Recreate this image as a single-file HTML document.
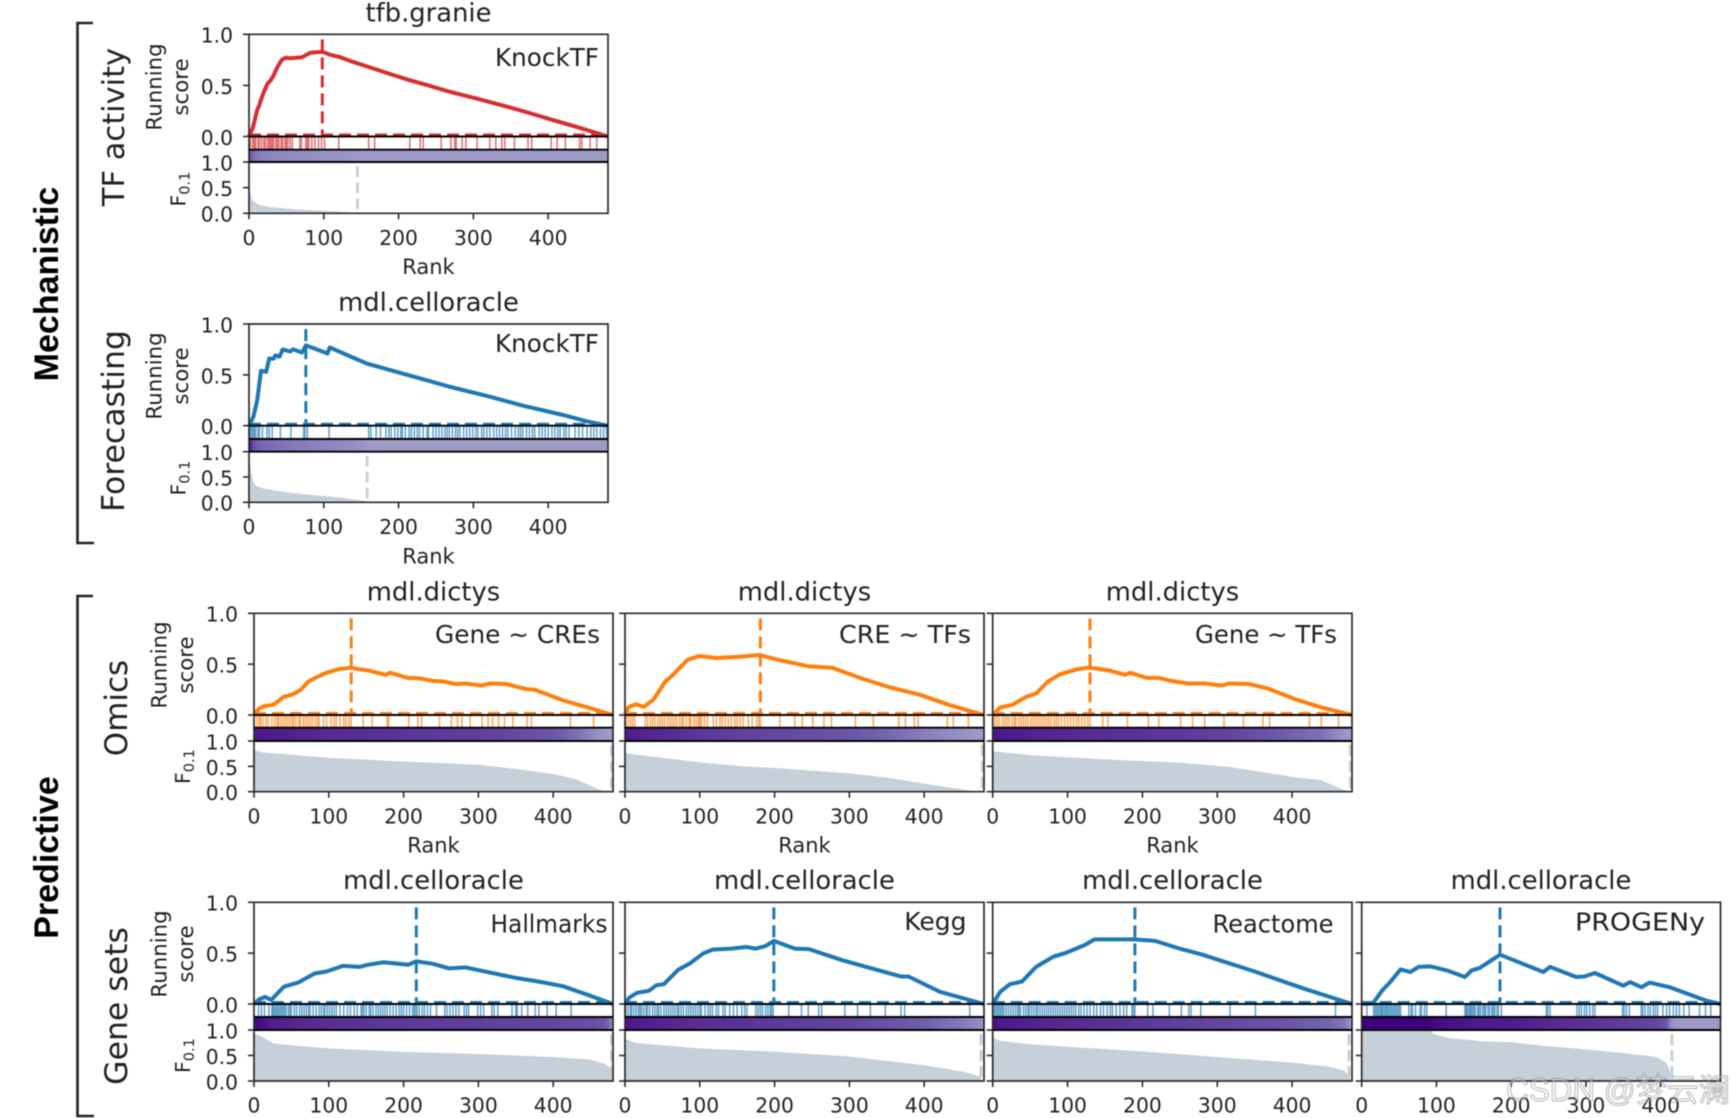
<!DOCTYPE html>
<html lang="en">
<head>
<meta charset="utf-8">
<title>Running score panels</title>
<style>
  html,body{margin:0;padding:0;background:#fff;width:1732px;height:1118px;overflow:hidden}
  svg{display:block;filter:blur(.6px)}
  text{font-family:"DejaVu Sans","Noto Sans CJK SC",sans-serif;fill:#222}
  .ttl{font-size:25.8px;text-anchor:middle}
  .ann{font-size:25px;text-anchor:end}
  .rk{font-size:21px;text-anchor:middle}
  .yl{font-size:21.3px;text-anchor:middle}
  .fl{font-size:20.4px}
  .grp{text-anchor:middle}
  .big{font-family:"Liberation Sans",sans-serif;font-weight:700;font-size:34px;text-anchor:middle;fill:#000}
  .tk{font-size:20.3px}
</style>
</head>
<body>
<svg id="fig" xmlns="http://www.w3.org/2000/svg" width="1732" height="1118" viewBox="0 0 1732 1118">
  <rect width="1732" height="1118" fill="#fff"/>
  <g id="panels"></g>

  <path d="M93 23 H77.5 V543 H94" fill="none" stroke="#222" stroke-width="2.6"/>
  <path d="M93 596 H77.5 V1116 H94" fill="none" stroke="#222" stroke-width="2.6"/>
  <text class="big" transform="translate(58,284) rotate(-90)">Mechanistic</text>
  <text class="big" transform="translate(58,857.5) rotate(-90)">Predictive</text>
  <text class="grp" font-size="30.5" transform="translate(124,127) rotate(-90)">TF activity</text>
  <text class="grp" font-size="31.5" transform="translate(124,421) rotate(-90)">Forecasting</text>
  <text class="grp" font-size="31" transform="translate(127,708) rotate(-90)">Omics</text>
  <text class="grp" font-size="31.5" transform="translate(127,1006) rotate(-90)">Gene sets</text>

  <text class="ttl" x="428.5" y="21.5">tfb.granie</text>
  <text class="ttl" x="428.5" y="311">mdl.celloracle</text>
  <text class="ttl" x="433.5" y="600.5">mdl.dictys</text>
  <text class="ttl" x="804.5" y="600.5">mdl.dictys</text>
  <text class="ttl" x="1172.5" y="600.5">mdl.dictys</text>
  <text class="ttl" x="433.5" y="889">mdl.celloracle</text>
  <text class="ttl" x="804.5" y="889">mdl.celloracle</text>
  <text class="ttl" x="1172.5" y="889">mdl.celloracle</text>
  <text class="ttl" x="1541" y="889">mdl.celloracle</text>

  <text class="ann" x="599" y="66" textLength="104" lengthAdjust="spacingAndGlyphs">KnockTF</text>
  <text class="ann" x="599" y="352" textLength="104" lengthAdjust="spacingAndGlyphs">KnockTF</text>
  <text class="ann" x="600" y="643" textLength="165" lengthAdjust="spacingAndGlyphs">Gene ~ CREs</text>
  <text class="ann" x="971" y="643" textLength="132" lengthAdjust="spacingAndGlyphs">CRE ~ TFs</text>
  <text class="ann" x="1337" y="643" textLength="142" lengthAdjust="spacingAndGlyphs">Gene ~ TFs</text>
  <text class="ann" x="607.5" y="932.5" textLength="117" lengthAdjust="spacingAndGlyphs">Hallmarks</text>
  <text class="ann" x="966.5" y="930">Kegg</text>
  <text class="ann" x="1333.5" y="932.5" textLength="121" lengthAdjust="spacingAndGlyphs">Reactome</text>
  <text class="ann" x="1705" y="930.5" textLength="130" lengthAdjust="spacingAndGlyphs">PROGENy</text>

  <text class="rk" x="428.5" y="274">Rank</text>
  <text class="rk" x="428.5" y="563.5">Rank</text>
  <text class="rk" x="433.5" y="852.5">Rank</text>
  <text class="rk" x="804.5" y="852.5">Rank</text>
  <text class="rk" x="1172.5" y="852.5">Rank</text>

  <g>
    <text class="yl" transform="translate(161.5,87) rotate(-90)">Running</text>
    <text class="yl" transform="translate(188,87) rotate(-90)">score</text>
    <text class="yl" transform="translate(161.5,376) rotate(-90)">Running</text>
    <text class="yl" transform="translate(188,376) rotate(-90)">score</text>
    <text class="yl" transform="translate(166.5,665) rotate(-90)">Running</text>
    <text class="yl" transform="translate(193,665) rotate(-90)">score</text>
    <text class="yl" transform="translate(166.5,954) rotate(-90)">Running</text>
    <text class="yl" transform="translate(193,954) rotate(-90)">score</text>
    <text class="fl" transform="translate(185.5,206.5) rotate(-90)">F<tspan font-size="14.5" dy="4">0.1</tspan></text>
    <text class="fl" transform="translate(185.5,495.5) rotate(-90)">F<tspan font-size="14.5" dy="4">0.1</tspan></text>
    <text class="fl" transform="translate(190,784) rotate(-90)">F<tspan font-size="14.5" dy="4">0.1</tspan></text>
    <text class="fl" transform="translate(190,1073) rotate(-90)">F<tspan font-size="14.5" dy="4">0.1</tspan></text>
  </g>

  <text x="1506" y="1101" font-size="32" textLength="224" lengthAdjust="spacingAndGlyphs" style="font-family:'Liberation Sans','Noto Sans CJK SC',sans-serif;fill:rgba(255,255,255,.35);stroke:rgba(110,110,110,.5);stroke-width:1">CSDN @梦云澜</text>
</svg>

<script>
// ---------- Axis tick labels ----------
const rankTicks = [0, 100, 200, 300, 400];
const scoreTicks = [0, 0.5, 1];
const fTicks = [0, 0.5, 1];
const tickText = ['0.0', '0.5', '1.0'];
const maxRank = 480;

// ---------- tfb.granie / KnockTF ----------
const granieRanks = [0,3,5,8,11,14,16,20,25,29,33,38,44,49,55,63,71,77,82,90,98,108,120,135,158,185,213,240,267,305,344,375,404,440,480];
const granieScores = [0,.05,.08,.17,.26,.31,.36,.44,.52,.55,.60,.68,.75,.77,.765,.77,.775,.80,.82,.825,.83,.80,.78,.74,.685,.62,.555,.50,.44,.37,.295,.23,.165,.09,0];
const granieHits = [2,5,7,9,12,14,17,20,22,25,27,29,31,33,36,38,40,43,45,48,50,52,55,58,68,70,76,78,80,84,88,93,97,101,120,160,168,215,229,233,257,270,275,277,285,290,305,322,330,338,342,355,373,378,404,412,423,442,445,456,465];
const granieFRanks = [0,2,5,10,15,30,60,100,145];
const granieFValues = [.5,.36,.25,.19,.16,.12,.08,.05,.01];
const granieFCut = 145;
const granieBest = 98;

// ---------- mdl.celloracle / KnockTF ----------
const forecastRanks = [0,6,11,16,23,27,33,35,41,45,55,59,71,76,87,105,108,131,158,185,229,267,322,365,420,453,480];
const forecastScores = [0,.09,.25,.54,.53,.66,.66,.69,.68,.75,.73,.75,.72,.79,.76,.71,.77,.695,.61,.555,.465,.385,.285,.2,.105,.04,0];
const forecastHits = [1,3,5,7,9,12,14,18,24,27,31,42,56,73,75,78,107,160,163,170,176,183,187,190,195,199,203,205,209,214,217,221,225,228,233,238,240,246,250,254,258,262,265,268,272,276,279,282,287,291,295,299,303,306,311,314,318,322,327,331,335,339,343,346,351,356,360,363,366,371,375,379,382,388,392,396,400,405,409,413,416,421,424,428,436,441,446,452,457,461,465,470,474,478];
const forecastFRanks = [0,3,6,10,20,50,80,120,158];
const forecastFValues = [.9,.6,.4,.32,.27,.2,.15,.1,.02];
const forecastFCut = 158;
const forecastBest = 76;

// ---------- mdl.dictys / Gene ~ CREs ----------
const creRanks = [0,7,15,26,33,40,51,62,73,83,97,113,129,140,152,176,182,206,223,239,253,269,283,304,315,337,364,375,413,446,480];
const creScores = [0,.065,.09,.1,.14,.18,.2,.245,.33,.37,.415,.45,.465,.45,.44,.395,.415,.365,.36,.335,.33,.305,.31,.29,.31,.305,.255,.25,.145,.075,0];
const creHits = [4,7,9,12,16,19,24,28,31,33,36,39,42,45,48,51,53,56,60,62,66,69,72,75,78,82,85,87,93,97,103,107,110,115,120,123,127,130,146,158,178,180,207,219,224,248,264,272,278,289,305,313,319,327,335,346,365,371,423,454];
const creFRanks = [0,10,50,100,200,270,300,350,400,430,445,460,473];
const creFValues = [.82,.78,.73,.667,.595,.55,.53,.45,.35,.25,.15,.05,0];
const creFCut = 478;
const creBest = 130;

// ---------- mdl.dictys / CRE ~ TFs ----------
const tfRanks = [0,5,15,25,38,46,54,62,70,83,99,122,148,165,180,206,245,277,316,355,394,433,480];
const tfScores = [0,.08,.105,.08,.15,.24,.33,.38,.44,.54,.58,.56,.57,.58,.59,.54,.48,.465,.36,.27,.2,.1,0];
const tfHits = [1,4,7,10,13,27,30,34,37,40,44,47,50,53,57,60,63,66,69,73,76,78,82,86,88,92,95,98,100,102,106,110,118,122,127,130,134,138,142,147,150,154,158,165,170,176,179,181,207,227,237,251,266,276,308,332,366,375,387,392,431,439,459];
const tfFRanks = [0,10,50,100,160,200,300,350,400,450,470];
const tfFValues = [.77,.74,.67,.58,.5,.47,.36,.28,.16,.05,0];
const tfFCut = 478;
const tfBest = 181;

// ---------- mdl.dictys / Gene ~ TFs ----------
const geneRanks = [0,10,26,45,58,74,90,113,130,155,177,184,206,222,239,261,284,306,316,342,368,406,439,480];
const geneScores = [0,.075,.1,.18,.21,.33,.40,.45,.465,.44,.395,.415,.365,.365,.335,.31,.31,.29,.31,.305,.26,.15,.075,0];
const geneHits = [3,6,9,13,16,19,22,26,29,31,35,38,41,44,47,51,54,57,60,63,66,69,72,75,78,82,85,88,92,96,100,104,108,112,115,119,123,127,130,147,154,180,208,222,251,267,283,309,335,361,370,423,439,462];
const geneFRanks = [0,52,155,252,316,406,439,458,474];
const geneFValues = [.8,.72,.635,.57,.49,.28,.23,.1,.01];
const geneFCut = 478;
const geneBest = 130;

// ---------- mdl.celloracle / Hallmarks ----------
const hallRanks = [0,7,15,23,40,59,81,97,119,141,152,173,206,217,239,261,283,315,348,381,413,446,480];
const hallScores = [0,.045,.07,.04,.17,.21,.30,.32,.375,.365,.385,.41,.385,.42,.395,.35,.36,.31,.26,.22,.175,.09,0];
const hallHits = [6,10,14,20,24,25,27,29,31,33,35,37,39,41,43,46,48,50,54,57,61,64,67,70,73,75,79,83,87,90,93,95,98,101,104,107,110,115,120,125,129,134,138,143,145,147,150,154,156,159,163,166,169,172,175,178,182,186,190,194,197,200,204,208,212,214,216,218,221,225,228,232,236,244,255,258,262,266,270,274,281,284,287,299,303,307,318,321,326,345,350,352,358,366,376,381,392,404,424];
const hallFRanks = [0,10,25,50,100,200,300,400,450,470,480];
const hallFValues = [.93,.88,.74,.7,.64,.57,.53,.47,.42,.33,.2];
const hallFCut = 478;
const hallBest = 217;

// ---------- mdl.celloracle / Kegg ----------
const keggRanks = [0,6,16,32,42,52,71,87,104,117,142,162,175,188,199,227,246,291,330,369,379,421,480];
const keggScores = [0,.065,.11,.13,.185,.195,.335,.40,.495,.535,.545,.56,.545,.57,.62,.545,.54,.43,.35,.27,.27,.12,0];
const keggHits = [1,4,7,9,12,15,18,20,22,25,28,30,33,37,40,43,45,48,52,55,58,61,64,67,70,72,75,78,82,85,88,91,94,97,100,102,107,111,114,117,122,125,131,134,140,145,150,156,160,163,175,178,181,184,188,191,194,196,198,219,236,245,259,263,294,311,328,348,369,374,461];
const keggFRanks = [0,13,50,100,200,300,400,453,476];
const keggFValues = [.83,.75,.7,.64,.575,.48,.31,.18,.08];
const keggFCut = 476;
const keggBest = 199;

// ---------- mdl.celloracle / Reactome ----------
const reacRanks = [0,10,23,39,58,81,97,123,136,155,175,189,217,252,278,350,414,480];
const reacScores = [0,.12,.195,.22,.365,.465,.50,.58,.635,.635,.635,.635,.62,.54,.49,.32,.155,0];
const reacHits = [1,3,5,7,9,11,13,15,18,21,24,27,30,33,35,37,41,44,47,49,52,55,58,60,63,66,69,72,75,78,81,84,87,90,93,96,99,102,105,108,111,115,118,122,126,130,135,139,144,148,153,157,160,165,170,175,179,186,188,190,207,214,236,252,262,265,278,317,351,458];
const reacFRanks = [0,10,50,100,200,300,400,450,470,478];
const reacFValues = [.85,.79,.72,.67,.58,.47,.36,.28,.2,.04];
const reacFCut = 476;
const reacBest = 190;

// ---------- mdl.celloracle / PROGENy ----------
const progRanks = [0,15,27,38,52,65,76,92,114,138,147,158,185,243,252,287,298,312,350,359,374,385,412,460,480];
const progScores = [0,.005,.13,.215,.34,.315,.365,.37,.33,.265,.33,.355,.485,.315,.365,.265,.27,.305,.18,.215,.165,.21,.165,.035,0];
const progHits = [7,16,18,20,22,24,26,27,29,31,33,34,36,38,40,42,44,46,48,50,52,63,66,68,72,78,80,84,87,113,138,140,141,143,145,146,148,150,152,155,157,159,162,164,166,169,171,174,176,178,181,183,187,247,249,252,288,291,294,298,301,305,309,312,349,351,354,358,374,376,379,383,386,390,393,396,403,408,412,417,421,425,431,438,452,460,467];
const progFRanks = [0,93,95,115,160,200,250,300,350,395,408,412,415];
const progFValues = [1,1,.93,.85,.78,.76,.68,.62,.55,.47,.35,.2,0];
const progFCut = 415;
const progBest = 185;

// ---------- Colour map for the strip between the two plots (Purples) ----------
const stripLevels = [0, .15, .35, .55, .75, 1];
const stripReds = [158, 138, 108, 95, 79, 63];
const stripGreens = [154, 128, 87, 60, 29, 0];
const stripBlues = [200, 189, 168, 155, 141, 125];

// ---------- Layout (not data) ----------
const NS = 'http://www.w3.org/2000/svg';
const rowBoxes = [
  {top:34.3, zero:136.5, barTop:149.7, barBot:162, f0:213.3},
  {top:324, zero:425.7, barTop:439, barBot:451.7, f0:502.3},
  {top:613.3, zero:715, barTop:727.7, barBot:741, f0:791.7},
  {top:902.3, zero:1004, barTop:1017, barBot:1030, f0:1081}
];
const colA = [249, 608], colB = [254, 613], colC = [625, 984], colD = [992.7, 1352], colE = [1361.7, 1720.5];
const redC = '#d62f33', blueC = '#1f77b4', orangeC = '#ff7f0e', greyC = '#c6d0da';

const panelList = [
  {id:'granie', row:0, col:colA, color:redC, labels:true, ranks:granieRanks, scores:granieScores, hits:granieHits, fr:granieFRanks, fv:granieFValues, cut:granieFCut, best:granieBest},
  {id:'forecast', row:1, col:colA, color:blueC, labels:true, ranks:forecastRanks, scores:forecastScores, hits:forecastHits, fr:forecastFRanks, fv:forecastFValues, cut:forecastFCut, best:forecastBest},
  {id:'gene-cres', row:2, col:colB, color:orangeC, labels:true, ranks:creRanks, scores:creScores, hits:creHits, fr:creFRanks, fv:creFValues, cut:creFCut, best:creBest},
  {id:'cre-tfs', row:2, col:colC, color:orangeC, labels:false, ranks:tfRanks, scores:tfScores, hits:tfHits, fr:tfFRanks, fv:tfFValues, cut:tfFCut, best:tfBest},
  {id:'gene-tfs', row:2, col:colD, color:orangeC, labels:false, ranks:geneRanks, scores:geneScores, hits:geneHits, fr:geneFRanks, fv:geneFValues, cut:geneFCut, best:geneBest},
  {id:'hallmarks', row:3, col:colB, color:blueC, labels:true, ranks:hallRanks, scores:hallScores, hits:hallHits, fr:hallFRanks, fv:hallFValues, cut:hallFCut, best:hallBest},
  {id:'kegg', row:3, col:colC, color:blueC, labels:false, ranks:keggRanks, scores:keggScores, hits:keggHits, fr:keggFRanks, fv:keggFValues, cut:keggFCut, best:keggBest},
  {id:'reactome', row:3, col:colD, color:blueC, labels:false, ranks:reacRanks, scores:reacScores, hits:reacHits, fr:reacFRanks, fv:reacFValues, cut:reacFCut, best:reacBest},
  {id:'progeny', row:3, col:colE, color:blueC, labels:false, ranks:progRanks, scores:progScores, hits:progHits, fr:progFRanks, fv:progFValues, cut:progFCut, best:progBest}
];

function mk(tag, parent, attrs) {
  const node = document.createElementNS(NS, tag);
  for (const k in attrs) node.setAttribute(k, attrs[k]);
  parent.appendChild(node);
  return node;
}
function interp(xs, ys, x) {
  if (x <= xs[0]) return ys[0];
  for (let i = 1; i < xs.length; i++) {
    if (x <= xs[i]) return ys[i-1] + (ys[i]-ys[i-1]) * (x-xs[i-1]) / (xs[i]-xs[i-1]);
  }
  return ys[ys.length-1];
}
function stripColor(v) {
  const r = Math.round(interp(stripLevels, stripReds, v));
  const g = Math.round(interp(stripLevels, stripGreens, v));
  const b = Math.round(interp(stripLevels, stripBlues, v));
  return 'rgb(' + r + ',' + g + ',' + b + ')';
}

const root = document.getElementById('panels');
const defs = mk('defs', root, {});

panelList.forEach(function (p) {
  const box = rowBoxes[p.row];
  const x0 = p.col[0], x1 = p.col[1];
  const sx = function (r) { return x0 + (x1 - x0) * r / maxRank; };
  const sy = function (v) { return box.zero - (box.zero - box.top) * v; };
  const fy = function (v) { return box.f0 - (box.f0 - box.barBot) * v; };

  const g = mk('g', root, {});
  
  

  // F area
  const lastF = p.fr.length - 1;
  const fPts = p.fr.map(function (r, i) { return sx(r).toFixed(1) + ',' + fy(p.fv[i]).toFixed(1); });
  const area = mk('polygon', g, {
    points: sx(p.fr[0]).toFixed(1) + ',' + box.f0 + ' ' + fPts.join(' ') + ' ' + sx(p.fr[lastF]).toFixed(1) + ',' + box.f0,
    fill: greyC
  });
  
  

  // F cutoff
  const cut = mk('line', g, {
    x1: sx(p.cut), x2: sx(p.cut), y1: fy(.92), y2: box.f0,
    stroke: greyC, 'stroke-width': 3, 'stroke-dasharray': '11 5'
  });
  
  

  // Rug of hits
  const rug = mk('g', g, {stroke: p.color, 'stroke-width': 1.5, 'stroke-opacity': .7});
  
  
  p.hits.forEach(function (r) {
    const hit = mk('line', rug, {x1: sx(r), x2: sx(r), y1: box.zero, y2: box.barTop});
    
    
  });

  // Colour strip derived from F values
  const gradId = 'strip-' + p.id;
  const grad = mk('linearGradient', defs, {id: gradId, x1: 0, x2: 1, y1: 0, y2: 0});
  for (let r = 0; r <= maxRank; r += 6) {
    const v = r > p.cut ? 0 : interp(p.fr, p.fv, r);
    mk('stop', grad, {offset: (r / maxRank).toFixed(4), 'stop-color': stripColor(v)});
  }
  const strip = mk('rect', g, {x: x0, y: box.barTop, width: x1 - x0, height: box.barBot - box.barTop, fill: 'url(#' + gradId + ')'});
  
  

  // Zero dashes
  const zeroLine = mk('line', g, {
    x1: x0, x2: x1, y1: box.zero - 1.5, y2: box.zero - 1.5,
    stroke: p.color, 'stroke-width': 3, 'stroke-dasharray': '12 6'
  });
  
  

  // Running score
  const line = mk('polyline', g, {
    points: p.ranks.map(function (r, i) { return sx(r).toFixed(1) + ',' + sy(p.scores[i]).toFixed(1); }).join(' '),
    fill: 'none', stroke: p.color, 'stroke-width': 4, 'stroke-linejoin': 'round'
  });
  
  

  // Best-rank marker
  const peak = mk('line', g, {
    x1: sx(p.best), x2: sx(p.best), y1: sy(.95), y2: box.zero,
    stroke: p.color, 'stroke-width': 3, 'stroke-dasharray': '12 6'
  });
  
  

  // Frame
  const frame = mk('path', g, {
    d: 'M' + x0 + ' ' + box.top + ' H' + x1 + ' V' + box.f0 + ' H' + x0 + ' Z',
    fill: 'none', stroke: '#2a2a2a', 'stroke-width': 1.7
  });
  
  
  [box.zero, box.barTop, box.barBot].forEach(function (y) {
    const sep = mk('line', g, {x1: x0, x2: x1, y1: y, y2: y, stroke: '#000', 'stroke-width': 1.9});
    
    
  });

  // X ticks
  rankTicks.forEach(function (t) {
    const tick = mk('line', g, {x1: sx(t), x2: sx(t), y1: box.f0, y2: box.f0 + 6, stroke: '#2a2a2a', 'stroke-width': 1.6});
    
    
    const lab = mk('text', g, {x: sx(t), y: box.f0 + 31.7, 'text-anchor': 'middle', 'class': 'tk'});
    lab.textContent = String(t);
    
    
  });

  // Y ticks: running score
  scoreTicks.forEach(function (t, i) {
    const tick = mk('line', g, {x1: x0 - 6, x2: x0, y1: sy(t), y2: sy(t), stroke: '#2a2a2a', 'stroke-width': 1.6});
    
    
    if (p.labels) {
      const lab = mk('text', g, {x: x0 - 16, y: sy(t) + 8.4, 'text-anchor': 'end', 'class': 'tk'});
      lab.textContent = tickText[i];
      
      
    }
  });

  // Y ticks: F
  fTicks.forEach(function (t, i) {
    const tick = mk('line', g, {x1: x0 - 6, x2: x0, y1: fy(t), y2: fy(t), stroke: '#2a2a2a', 'stroke-width': 1.6});
    
    
    if (p.labels) {
      const lab = mk('text', g, {x: x0 - 16, y: fy(t) + 8.4, 'text-anchor': 'end', 'class': 'tk'});
      lab.textContent = tickText[i];
      
      
    }
  });
});
</script>
</body>
</html>
